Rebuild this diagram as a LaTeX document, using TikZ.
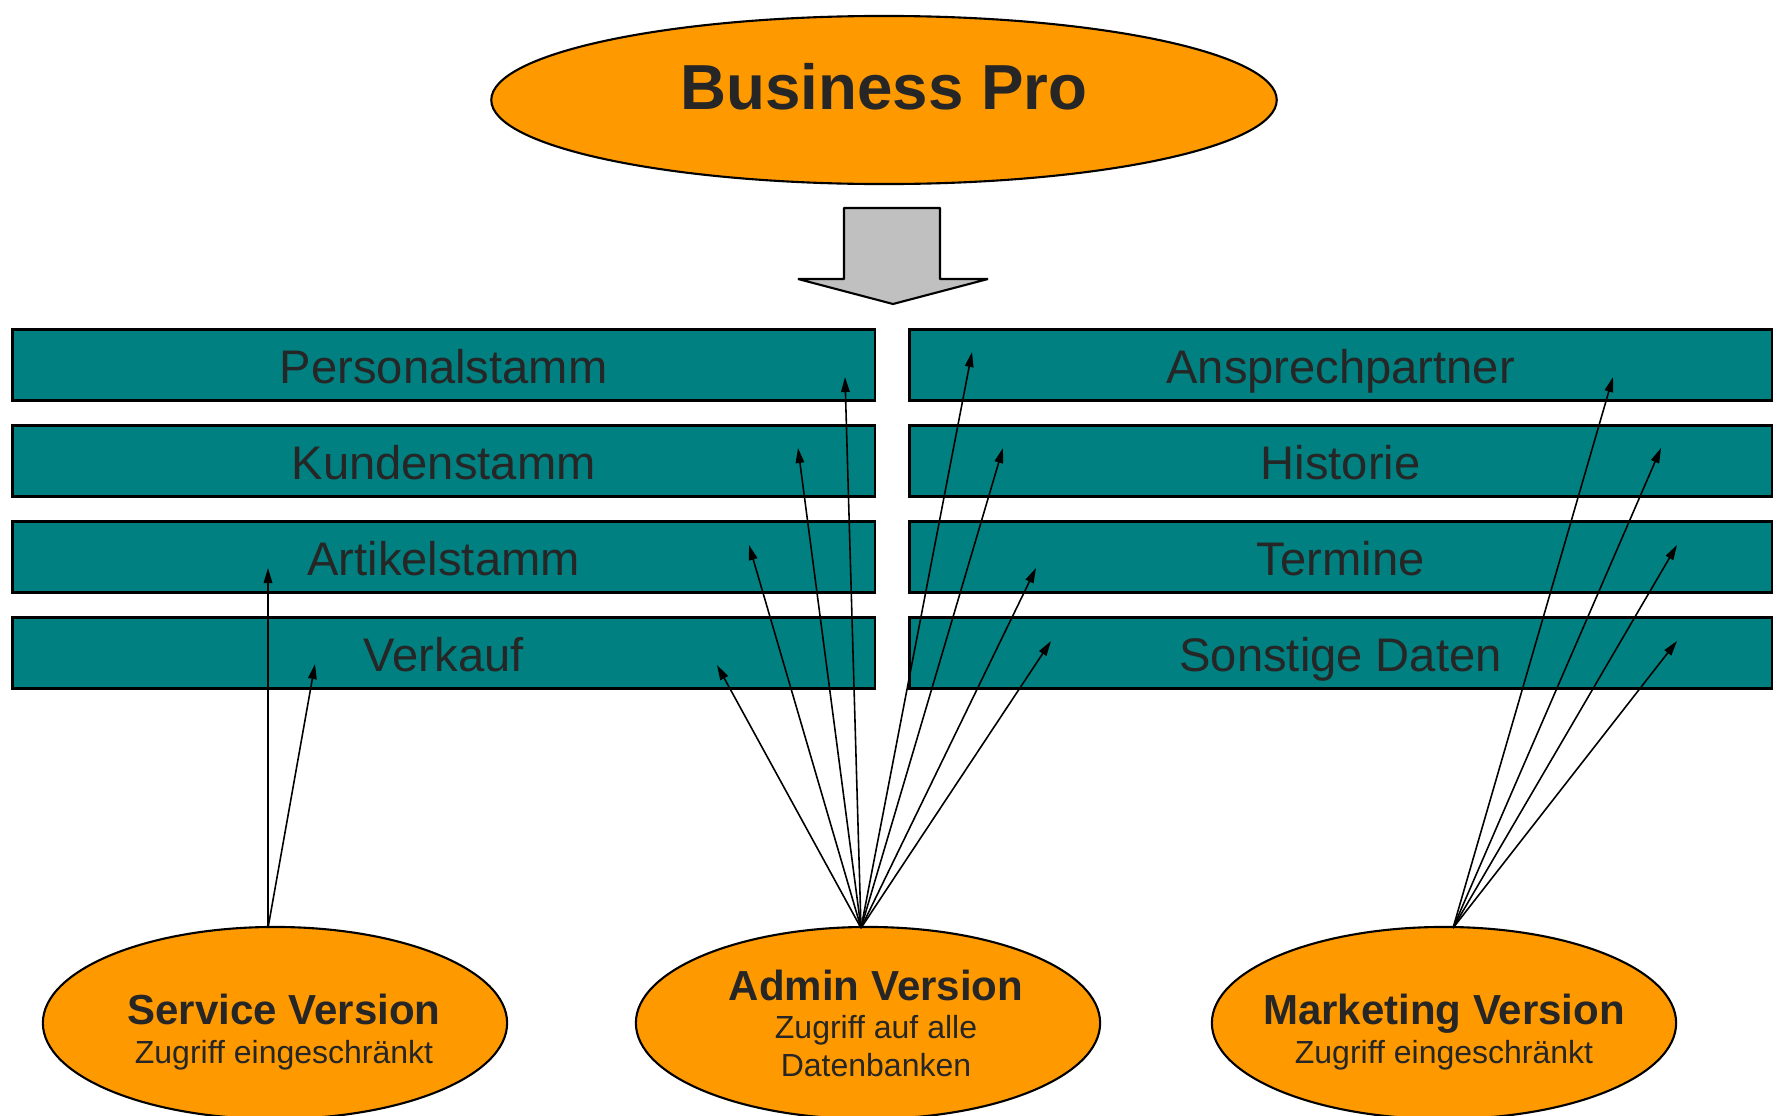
\documentclass[tikz,border=0pt]{standalone}
\usepackage{fontspec}
\setmainfont{Liberation Sans}
\usetikzlibrary{arrows.meta,shapes.geometric}
\definecolor{orng}{HTML}{FF9900}
\definecolor{tealbar}{HTML}{008080}
\definecolor{txt}{HTML}{262626}
\definecolor{grayarrow}{HTML}{C0C0C0}
\begin{document}
\begin{tikzpicture}[x=0.01cm,y=-0.01cm,
  oval/.style={ellipse, draw=black, line width=0.6pt, fill=orng, inner sep=0pt},
  bar/.style={draw=black, line width=0.8pt, fill=tealbar, inner sep=0pt,
    minimum width=8.62cm, minimum height=0.71cm, anchor=north west,
    text=txt, text height=0.37cm, text depth=0pt,
    font=\fontsize{13.4pt}{16pt}\selectfont},
  vtitle/.style={anchor=base, text=txt, inner sep=0pt, font=\bfseries\fontsize{11.95pt}{14pt}\selectfont},
  vsub/.style={anchor=base, text=txt, inner sep=0pt, font=\fontsize{9.1pt}{11pt}\selectfont},
  conn/.style={line width=0.45pt, -{Triangle[length=0.15cm, width=0.085cm]}}
]
\clip (0,0) rectangle (1779,1115);
\fill[white] (0,0) rectangle (1779,1115);

% top ellipse
\node[oval, minimum width=7.85cm, minimum height=1.68cm] (bp) at (884,100) {};
\node[anchor=base, text=txt, inner sep=0pt, font=\bfseries\fontsize{18.1pt}{22pt}\selectfont] (bpt) at (884,109) {Business Pro};

% gray block arrow
\draw[fill=grayarrow, line width=0.6pt, line join=bevel]
  (844,208) -- (940,208) -- (940,279) -- (988,279) -- (893,304) -- (798,279) -- (844,279) -- cycle;

% bars
\node[bar] (b1) at (11,328) {Personalstamm};
\node[bar] (b2) at (11,424) {Kundenstamm};
\node[bar] (b3) at (11,520) {Artikelstamm};
\node[bar] (b4) at (11,616) {Verkauf};
\node[bar] (r1) at (908,328) {Ansprechpartner};
\node[bar] (r2) at (908,424) {Historie};
\node[bar] (r3) at (908,520) {Termine};
\node[bar] (r4) at (908,616) {Sonstige Daten};

% bottom ellipses
\node[oval, minimum width=4.64cm, minimum height=1.92cm] (sv) at (275,1023) {};
\node[oval, minimum width=4.64cm, minimum height=1.92cm] (av) at (868,1023) {};
\node[oval, minimum width=4.64cm, minimum height=1.92cm] (mv) at (1444,1023) {};

\node[vtitle] (svt) at (284,1024) {Service Version};
\node[vsub] (svs) at (284,1063) {Zugriff eingeschränkt};
\node[vtitle] (avt) at (876,1000) {Admin Version};
\node[vsub] (avs1) at (876,1038) {Zugriff auf alle};
\node[vsub] (avs2) at (876,1076) {Datenbanken};
\node[vtitle] (mvt) at (1444,1024) {Marketing Version};
\node[vsub] (mvs) at (1444,1063) {Zugriff eingeschränkt};

% connector start points
\coordinate (sS) at (268,928);
\coordinate (aS) at (861,928);
\coordinate (mS) at (1453,928);

% tips
\coordinate (s1) at (268,568);
\coordinate (s2) at (315,664);
\coordinate (a1) at (845,377);
\coordinate (a2) at (798,448);
\coordinate (a3) at (749,545);
\coordinate (a4) at (717,665);
\coordinate (a5) at (972,352);
\coordinate (a6) at (1003,448);
\coordinate (a7) at (1036,568);
\coordinate (a8) at (1051,641);
\coordinate (m1) at (1613,377);
\coordinate (m2) at (1661,448);
\coordinate (m3) at (1677,545);
\coordinate (m4) at (1677,641);

\foreach \t in {s1,s2} \draw[conn] (sS) -- (\t);
\foreach \t in {a1,a2,a3,a4,a5,a6,a7,a8} \draw[conn] (aS) -- (\t);
\foreach \t in {m1,m2,m3,m4} \draw[conn] (mS) -- (\t);
\end{tikzpicture}
\end{document}
